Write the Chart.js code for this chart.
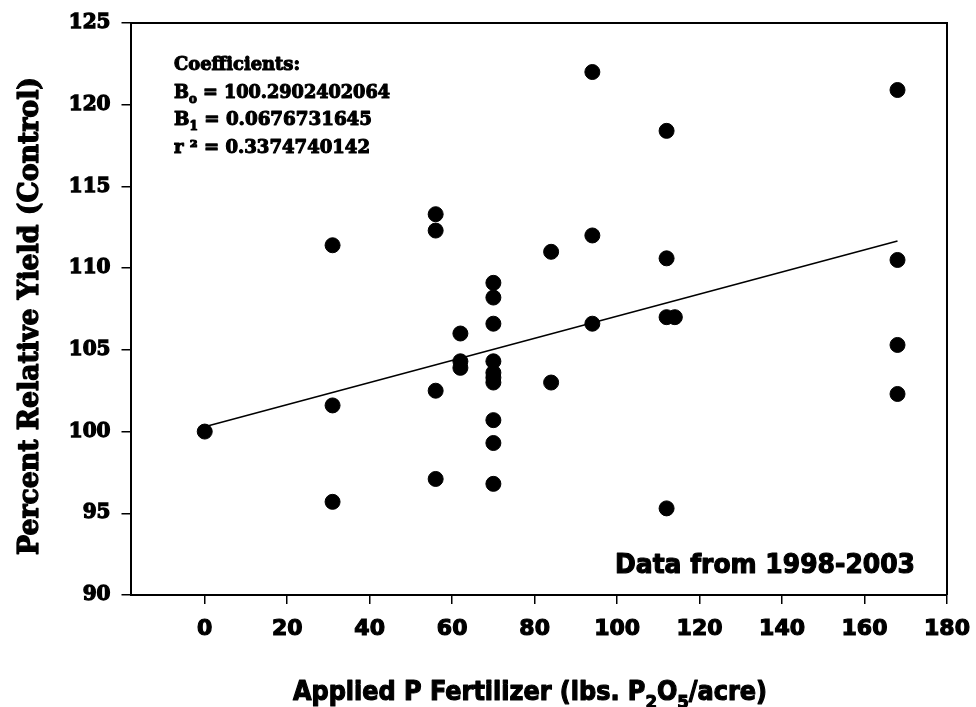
<!DOCTYPE html>
<html>
<head>
<meta charset="utf-8">
<script src="https://cdn.jsdelivr.net/npm/chart.js@4.4.1/dist/chart.umd.min.js"></script>
<style>
  html, body { margin: 0; padding: 0; background: #ffffff; }
  #wrap { width: 976px; height: 707px; }
</style>
</head>
<body>
<div id="wrap"><canvas id="yieldChart" width="976" height="707"></canvas></div>
<script>
// Data (x = lbs P2O5/acre, y = % relative yield)
const pointX = [0,
    31, 31, 31,
    56, 56, 56, 56,
    62, 62, 62,
    70, 70, 70, 70, 70, 70, 70, 70, 70, 70,
    84, 84,
    94, 94, 94,
    112, 112, 112, 112,
    114,
    168, 168, 168, 168];
const pointY = [100,
    111.4, 101.6, 95.7,
    113.3, 112.3, 102.5, 97.1,
    106.0, 104.3, 103.9,
    109.1, 108.2, 106.6, 104.3, 103.6, 103.3, 103.0, 100.7, 99.3, 96.8,
    111.0, 103.0,
    122.0, 112.0, 106.6,
    118.4, 110.6, 107.0, 95.3,
    107.0,
    120.9, 110.5, 105.3, 102.3];

// fitted line end points
const fitX = [0, 168];
const fitY = [100.29, 111.66];

const xTicks = [0, 20, 40, 60, 80, 100, 120, 140, 160, 180];
const yTicks = [90, 95, 100, 105, 110, 115, 120, 125];

const coefLines = [
    [["Coefficients:", 0]],
    [["B", 0], ["o", 1], [" = 100.2902402064", 0]],
    [["B", 0], ["1", 1], [" = 0.0676731645", 0]],
    [["r \u00b2 = 0.3374740142", 0]]
];
const noteText = "Data from 1998-2003";
const xTitleParts = [["Applied P Fertilizer (lbs. P", 0], ["2", 1], ["O", 0], ["5", 1], ["/acre)", 0]];
const yTitleText = "Percent Relative Yield (Control)";

// draw text pieces in a row, sub = 1 means subscript, squeezed to a given width
function drawParts(ctx, parts, x, y, size, family, width, stroke) {
    const mainFont = "bold " + size + "px " + family;
    const subFont = "bold " + Math.round(size * 0.68) + "px " + family;
    let total = 0;
    parts.forEach(p => {
        ctx.font = p[1] ? subFont : mainFont;
        total += ctx.measureText(p[0]).width;
    });
    const sx = width ? width / total : 1;
    ctx.save();
    ctx.translate(x, y);
    ctx.scale(sx, 1);
    ctx.textAlign = "left";
    ctx.textBaseline = "alphabetic";
    ctx.fillStyle = "#000";
    ctx.strokeStyle = "#000";
    ctx.lineWidth = stroke || 0;
    ctx.lineJoin = "round";
    let cx = 0;
    parts.forEach(p => {
        ctx.font = p[1] ? subFont : mainFont;
        const dy = p[1] ? size * 0.3 : 0;
        ctx.fillText(p[0], cx, dy);
        if (stroke) ctx.strokeText(p[0], cx, dy);
        cx += ctx.measureText(p[0]).width;
    });
    ctx.restore();
}

const extraText = {
    id: "extraText",
    afterDraw(chart) {
        const ctx = chart.ctx;
        const a = chart.chartArea;

        // top and right side of the frame
        ctx.save();
        ctx.strokeStyle = "#000";
        ctx.lineWidth = 2;
        ctx.beginPath();
        ctx.moveTo(a.left, a.top);
        ctx.lineTo(a.right, a.top);
        ctx.lineTo(a.right, a.bottom);
        ctx.stroke();
        ctx.restore();

        // coefficients box text
        const coefWidths = [126, 216, 198, 196];
        coefLines.forEach((line, i) => {
            drawParts(ctx, line, 174, 70 + i * 27.5, 18, '"DejaVu Serif"', coefWidths[i], 1.1);
        });

        drawParts(ctx, [[noteText, 0]], 615, 573, 27, '"DejaVu Sans"', 300, 1.2);

        // axis titles
        drawParts(ctx, xTitleParts, 293, 700, 26, '"DejaVu Sans"', 474, 1.2);

        ctx.save();
        ctx.translate(38, 316);
        ctx.rotate(-Math.PI / 2);
        drawParts(ctx, [[yTitleText, 0]], -239, 0, 27, '"DejaVu Serif"', 478, 1.3);
        ctx.restore();
    }
};

const points = pointX.map((x, i) => ({ x: x, y: pointY[i] }));
const fitLine = fitX.map((x, i) => ({ x: x, y: fitY[i] }));

const ctx = document.getElementById("yieldChart").getContext("2d");
new Chart(ctx, {
    type: "scatter",
    data: {
        datasets: [
            {
                label: "Yield",
                data: points,
                backgroundColor: "#000",
                borderColor: "#000",
                pointRadius: 7.5,
                pointHoverRadius: 7.5,
                order: 1
            },
            {
                type: "line",
                label: "Fit",
                data: fitLine,
                borderColor: "#000",
                borderWidth: 1.6,
                pointRadius: 0,
                fill: false,
                tension: 0,
                order: 2
            }
        ]
    },
    options: {
        responsive: false,
        animation: false,
        devicePixelRatio: 1,
        layout: { padding: { left: 0, top: 23, right: 29, bottom: 0 } },
        plugins: {
            legend: { display: false },
            tooltip: { enabled: false },
            title: { display: false }
        },
        scales: {
            x: {
                type: "linear",
                min: -18,
                max: 180,
                afterFit: (scale) => {
                    scale.height = 112;
                    scale.paddingLeft = 0;
                    scale.paddingRight = 0;
                },
                afterBuildTicks: (scale) => { scale.ticks = xTicks.map(v => ({ value: v })); },
                border: { display: true, color: "#000", width: 2 },
                grid: { drawOnChartArea: false, drawTicks: true, tickLength: 9, color: "#000", lineWidth: 1.5 },
                ticks: {
                    color: "#000",
                    padding: 12,
                    maxRotation: 0,
                    textStrokeColor: "#000",
                    textStrokeWidth: 1.2,
                    font: { family: "DejaVu Sans", size: 22, weight: "bold" }
                }
            },
            y: {
                type: "linear",
                min: 90,
                max: 125,
                afterFit: (scale) => {
                    scale.width = 130.5;
                    scale.paddingTop = 0;
                    scale.paddingBottom = 0;
                },
                afterBuildTicks: (scale) => { scale.ticks = yTicks.map(v => ({ value: v })); },
                border: { display: true, color: "#000", width: 2 },
                grid: { drawOnChartArea: false, drawTicks: true, tickLength: 9, color: "#000", lineWidth: 1.5 },
                ticks: {
                    color: "#000",
                    padding: 11,
                    textStrokeColor: "#000",
                    textStrokeWidth: 1.3,
                    font: { family: "DejaVu Serif", size: 20, weight: "bold" }
                }
            }
        }
    },
    plugins: [extraText]
});
</script>
</body>
</html>
